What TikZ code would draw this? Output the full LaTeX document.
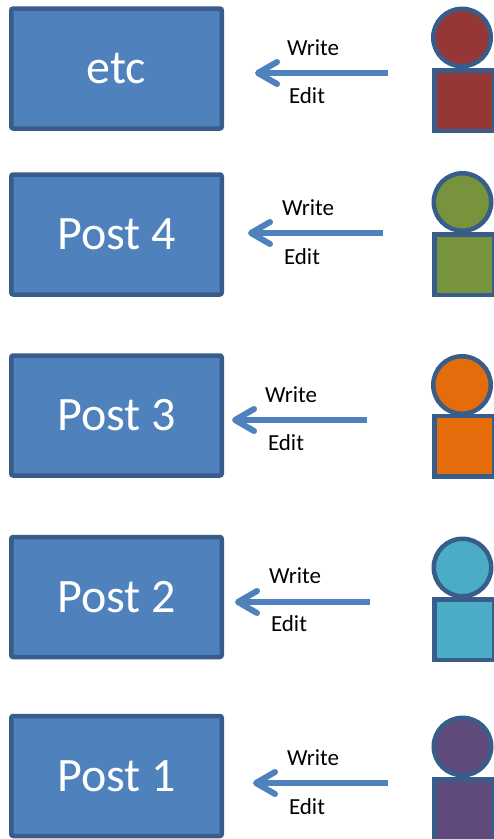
\documentclass[tikz,border=0pt]{standalone}
\usepackage{fontspec}
\setmainfont{Carlito}
\definecolor{postblue}{RGB}{79, 129, 189}
\definecolor{postedge}{RGB}{56, 93, 138}
\definecolor{red1}{RGB}{149, 55, 53}
\definecolor{green1}{RGB}{119, 147, 60}
\definecolor{orange1}{RGB}{228, 108, 10}
\definecolor{cyan1}{RGB}{75, 172, 198}
\definecolor{violet1}{RGB}{96, 74, 123}
\usepackage{tikz}
\usetikzlibrary{arrows.meta, positioning}

\begin{document}
\begin{tikzpicture}[x=1pt, y=-1pt,
  postbox/.style={draw=postedge, fill=postblue, line width=4.5pt, rounded corners=2pt, minimum width=210.5pt, minimum height=120pt, inner sep=0pt, text=white, font=\fontsize{48}{56}\selectfont},
  head/.style={circle, draw=postedge, line width=4.5pt, minimum size=57.5pt, inner sep=0pt},
  body/.style={draw=postedge, line width=4.5pt, minimum width=59.5pt, minimum height=60.5pt, inner sep=0pt},
  editarrow/.style={draw=postblue, line width=6pt, -{Straight Barb[length=19pt, width=22pt, round]}},
  lbl/.style={inner sep=0pt, font=\fontsize{23}{27}\selectfont}]
  \useasboundingbox (0,0) rectangle (494,839);
  \clip (0,0) rectangle (494,839);

  % Posts
  \node[postbox] (etc) at (116.5, 68.5) {etc};
  \node[postbox] (post4) at (116.5, 234.5) {Post 4};
  \node[postbox] (post3) at (116.5, 415.5) {Post 3};
  \node[postbox] (post2) at (116.5, 597) {Post 2};
  \node[postbox] (post1) at (116.5, 776) {Post 1};

  % Write / Edit arrows
  \coordinate (src-etc) at (388, 73);   \coordinate (dst-etc) at (255, 73);
  \coordinate (src-4) at (383, 233);    \coordinate (dst-4) at (248, 233);
  \coordinate (src-3) at (367, 420);    \coordinate (dst-3) at (232, 420);
  \coordinate (src-2) at (370, 602);    \coordinate (dst-2) at (235, 602);
  \coordinate (src-1) at (388, 783);    \coordinate (dst-1) at (253, 783);
  \draw[editarrow] (src-etc) -- (dst-etc);
  \draw[editarrow] (src-4) -- (dst-4);
  \draw[editarrow] (src-3) -- (dst-3);
  \draw[editarrow] (src-2) -- (dst-2);
  \draw[editarrow] (src-1) -- (dst-1);

  \node[lbl] (wr-etc) at (313, 48) {Write};
  \node[lbl] (ed-etc) at (307, 96) {Edit};
  \node[lbl] (wr-4) at (308, 208) {Write};
  \node[lbl] (ed-4) at (302, 257) {Edit};
  \node[lbl] (wr-3) at (291, 395) {Write};
  \node[lbl] (ed-3) at (286, 443) {Edit};
  \node[lbl] (wr-2) at (295, 576) {Write};
  \node[lbl] (ed-2) at (289, 624) {Edit};
  \node[lbl] (wr-1) at (313, 758) {Write};
  \node[lbl] (ed-1) at (307, 807) {Edit};

  % Authors
  \node[body, fill=red1] (bd-etc) at (464, 100.5) {};
  \node[head, fill=red1] (hd-etc) at (462, 37.5) {};
  \node[body, fill=green1] (bd-4) at (464, 264.5) {};
  \node[head, fill=green1] (hd-4) at (462.5, 202) {};
  \node[body, fill=orange1] (bd-3) at (464, 446) {};
  \node[head, fill=orange1] (hd-3) at (462, 385) {};
  \node[body, fill=cyan1] (bd-2) at (464, 629.5) {};
  \node[head, fill=cyan1] (hd-2) at (462.5, 567.5) {};
  \node[body, fill=violet1] (bd-1) at (464, 809.5) {};
  \node[head, fill=violet1] (hd-1) at (462.5, 746.5) {};
\end{tikzpicture}
\end{document}
